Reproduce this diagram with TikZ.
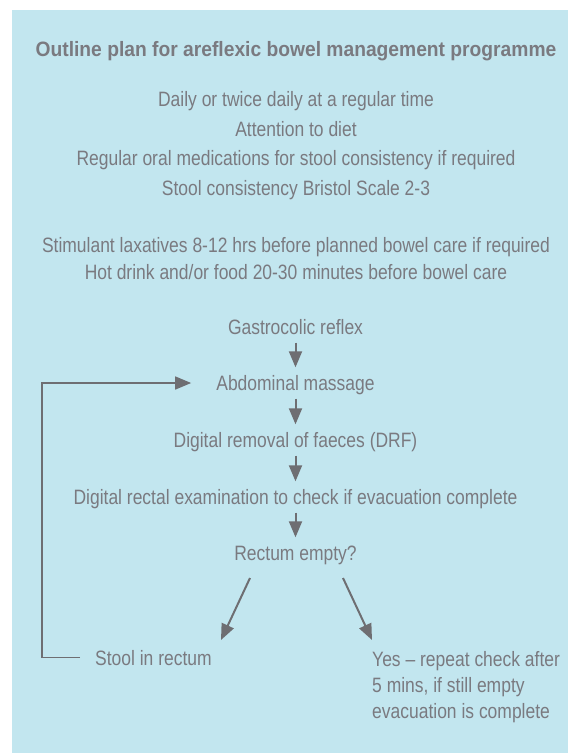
\documentclass[tikz,border=0pt]{standalone}
\usepackage{fontspec}
\setmainfont{Liberation Sans}[FakeStretch=0.84]
\newfontfamily\headfont{Liberation Sans}[FakeStretch=0.925]
\usetikzlibrary{arrows.meta}
\definecolor{bgblue}{HTML}{C2E6EF}
\definecolor{txtgrey}{HTML}{7A7A80}
\definecolor{arrgrey}{HTML}{6E6E72}
\newcommand{\tx}{\fontsize{20.8}{26}\selectfont}

\begin{document}
\begin{tikzpicture}[x=1pt,y=-1pt,
   txt/.style={anchor=base,inner sep=0pt,text=txtgrey,font=\tx},
   stage/.style={txt,text height=15pt,text depth=0pt,inner ysep=8pt},
   arr/.style={draw=arrgrey,line width=2pt,-{Triangle[length=16pt,width=13pt]}}]
   \useasboundingbox (0,0) rectangle (568,753);
   \fill[bgblue] (12,10) rectangle (568,753);
   \node[txt,font=\tx\headfont\bfseries] (title) at (296,56) {Outline plan for areflexic bowel management programme};
   \node[txt] (daily) at (296,106) {Daily or twice daily at a regular time};
   \node[txt] (diet) at (296,136) {Attention to diet};
   \node[txt] (meds) at (296,165) {Regular oral medications for stool consistency if required};
   \node[txt] (bristol) at (296,195) {Stool consistency Bristol Scale 2-3};
   \node[txt] (laxat) at (296,252) {Stimulant laxatives 8-12 hrs before planned bowel care if required};
   \node[txt] (drink) at (296,279) {Hot drink and/or food 20-30 minutes before bowel care};
   \node[stage] (gastro) at (295.5,334.5) {Gastrocolic reflex};
   \node[stage] (massage) at (295.5,390.5) {Abdominal massage};
   \node[stage] (drf) at (295.5,447.5) {Digital removal of faeces (DRF)};
   \node[stage] (exam) at (295.5,504.5) {Digital rectal examination to check if evacuation complete};
   \node[stage] (empty) at (295.5,560.5) {Rectum empty?};
   \node[stage,anchor=base west,inner xsep=15pt] (stool) at (80,665) {Stool in rectum};
   \node[txt,anchor=north west,align=left] (yes) at (372,651) {Yes -- repeat check after\\5 mins, if still empty\\evacuation is complete};
   \draw[arr] (gastro) -- (massage);
   \draw[arr] (massage) -- (drf);
   \draw[arr] (drf) -- (exam);
   \draw[arr] (exam) -- (empty);
   \coordinate (lfrom) at (250,578);
   \coordinate (lto) at (221,640);
   \coordinate (rfrom) at (343,578);
   \coordinate (rto) at (372,640);
   \draw[arr] (lfrom) -- (lto);
   \draw[arr] (rfrom) -- (rto);
   \draw[arr,line width=1.6pt,shorten >=25pt] (stool.west) -| (42,383) -- (massage.west);
\end{tikzpicture}
\end{document}
